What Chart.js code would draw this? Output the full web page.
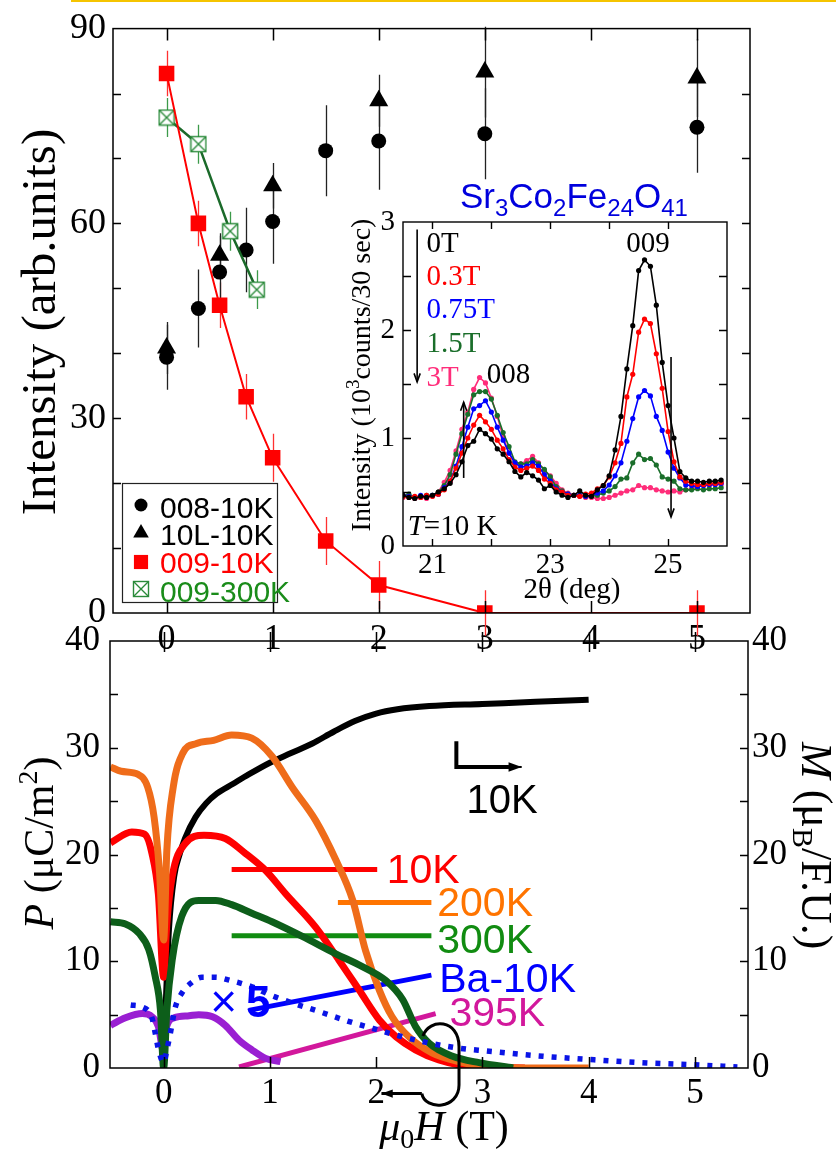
<!DOCTYPE html>
<html>
<head>
<meta charset="utf-8">
<script src="https://cdn.jsdelivr.net/npm/chart.js@4.4.0/dist/chart.umd.min.js"></script>
<style>
  html, body { margin: 0; padding: 0; background: #fff; }
  #wrap { position: relative; width: 836px; height: 1151px; overflow: hidden; }
  #wrap canvas { position: absolute; }
  #gold { position: absolute; left: 71px; top: 0; width: 765px; height: 2px; background: #f5c400; }
</style>
</head>
<body>
<div id="wrap">
  <div id="gold"></div>
  <canvas id="cBot" width="836" height="551" style="left:0;top:600px;width:836px;height:551px"></canvas>
  <canvas id="cTop" width="836" height="660" style="left:0;top:0;width:836px;height:660px"></canvas>
  <canvas id="cIns" width="400" height="440" style="left:340px;top:170px;width:400px;height:440px"></canvas>
</div>
<script>
// ---- top panel: peak intensity vs field ----
const field008 = [0, 0.3, 0.5, 0.75, 1, 1.5, 2, 3, 5];
const int008 = [39.4, 46.9, 52.5, 55.9, 60.3, 71.2, 72.7, 73.8, 74.8];
const err008 = [5, 6, 6, 6.5, 6.5, 7, 7.5, 7, 7];
const field10L = [0, 0.5, 1, 2, 3, 5];
const int10L = [40.8, 55.1, 65.8, 78.9, 83.3, 82.4];
const err10L = [4, 3, 3.5, 4, 7, 6];
const field009 = [0, 0.3, 0.5, 0.75, 1, 1.5, 2, 3, 5];
const int009 = [83.1, 60.0, 47.4, 33.3, 23.9, 11.1, 4.3, 0, 0];
const err009 = [3.5, 3.5, 3.5, 3.5, 3.7, 3.7, 3.7, 3.5, 3.5];
const field300 = [0, 0.3, 0.6, 0.85];
const int300 = [76.3, 72.2, 58.8, 49.8];
const err300 = [3, 3, 3, 3];

// ---- inset: scans at T = 10 K ----
const twoTheta = [20.5,20.6,20.7,20.8,20.9,21.0,21.1,21.2,21.3,21.4,21.5,21.6,21.7,21.8,21.9,22.0,22.1,22.2,22.3,22.4,22.5,22.6,22.7,22.8,22.9,23.0,23.1,23.2,23.3,23.4,23.5,23.6,23.7,23.8,23.9,24.0,24.1,24.2,24.3,24.4,24.5,24.6,24.7,24.8,24.9,25.0,25.1,25.2,25.3,25.4,25.5,25.6,25.7,25.8,25.9];
const scan0T = [0.47,0.45,0.44,0.46,0.45, 0.47,0.50,0.53,0.58,0.66,0.78,0.93,0.97,1.08,1.04, 0.99,0.90,0.85,0.78,0.69,0.64,0.68,0.65,0.61,0.53, 0.56,0.50,0.47,0.45,0.47,0.51,0.47,0.46,0.52,0.56, 0.65,0.89,1.20,1.64,2.04,2.55,2.65,2.59,2.23,1.70, 1.30,1.00,0.69,0.63,0.60,0.60,0.59,0.60,0.60,0.61];
const scan03T = [0.46,0.45,0.46,0.45,0.47, 0.46,0.48,0.52,0.60,0.72,0.86,1.00,1.12,1.21,1.15, 1.08,0.98,0.90,0.80,0.73,0.70,0.72,0.74,0.70,0.62, 0.58,0.52,0.50,0.47,0.47,0.46,0.48,0.49,0.53,0.56, 0.64,0.77,0.95,1.38,1.59,1.98,2.10,2.06,1.78,1.46, 1.06,0.78,0.64,0.60,0.58,0.57,0.57,0.58,0.58,0.59];
const scan075T = [0.47,0.46,0.45,0.47,0.46, 0.47,0.48,0.54,0.60,0.74,0.92,1.10,1.27,1.30,1.345, 1.24,1.10,0.98,0.86,0.77,0.73,0.74,0.77,0.74,0.66, 0.60,0.53,0.50,0.48,0.47,0.47,0.46,0.47,0.49,0.51, 0.565,0.65,0.77,0.97,1.18,1.38,1.44,1.39,1.20,1.07, 0.87,0.72,0.63,0.565,0.56,0.55,0.56,0.57,0.57,0.58];
const scan15T = [0.46,0.48,0.45,0.46,0.47, 0.47,0.50,0.56,0.66,0.85,1.04,1.22,1.40,1.43,1.43, 1.36,1.21,1.05,0.92,0.78,0.76,0.76,0.80,0.76,0.71, 0.64,0.55,0.51,0.48,0.47,0.47,0.46,0.46,0.47,0.49, 0.51,0.55,0.62,0.63,0.77,0.85,0.80,0.81,0.75,0.64, 0.62,0.60,0.53,0.52,0.52,0.53,0.52,0.53,0.53,0.54];
const scan3T = [0.45,0.46,0.44,0.45,0.44, 0.46,0.50,0.59,0.70,0.88,1.08,1.24,1.45,1.56,1.51, 1.37,1.20,1.01,0.86,0.77,0.76,0.79,0.83,0.77,0.70, 0.65,0.58,0.52,0.49,0.47,0.46,0.45,0.45,0.44,0.44, 0.45,0.47,0.49,0.51,0.52,0.56,0.54,0.54,0.52,0.51, 0.50,0.51,0.50,0.52,0.53,0.55,0.56,0.56,0.57,0.57];

// ---- bottom panel: P(H) and M(H) ----
const hM10K = [0, 0.02, 0.05, 0.1, 0.15, 0.2, 0.3, 0.4, 0.5, 0.65, 0.8, 1.0, 1.2, 1.4, 1.6, 1.8, 2.0, 2.2, 2.5, 3.0, 3.5, 4.0];
const m10K = [0, 6, 13, 18, 20, 21.5, 23.5, 24.8, 25.7, 26.6, 27.5, 28.6, 29.5, 30.4, 31.5, 32.5, 33.2, 33.6, 33.9, 34.1, 34.3, 34.5];
const h200K = [-0.5, -0.4, -0.24, -0.15, -0.09, -0.04, 0, 0.03, 0.09, 0.18, 0.31, 0.47, 0.64, 0.83, 1.02, 1.21, 1.43, 1.62, 1.78, 1.90, 2.03, 2.15, 2.31, 2.53, 2.78, 3.03, 3.5, 4.0];
const p200K = [28.2, 27.8, 27.5, 26.3, 23.5, 18.5, 12, 20.4, 26.3, 29.5, 30.4, 30.7, 31.2, 30.9, 29.2, 26.3, 23.2, 19.5, 15.7, 11.0, 7.3, 4.8, 2.9, 1.4, 0.6, 0.15, 0, 0];
const h10K = [-0.5, -0.3, -0.18, -0.11, -0.05, 0, 0.03, 0.08, 0.2, 0.38, 0.58, 0.77, 0.96, 1.15, 1.43, 1.65, 1.84, 2.03, 2.19, 2.37, 2.59, 2.84, 3.1, 3.4];
const p10K = [21.1, 22.1, 21.9, 20.1, 16.3, 8.5, 13.5, 17.9, 21.0, 21.8, 21.5, 20.1, 18.5, 16.3, 13.2, 10.1, 7.3, 4.5, 2.9, 1.7, 0.75, 0.2, 0.05, 0];
const h300K = [-0.5, -0.36, -0.23, -0.14, -0.08, -0.03, 0, 0.03, 0.08, 0.17, 0.33, 0.49, 0.64, 0.83, 1.02, 1.31, 1.62, 1.87, 2.09, 2.25, 2.37, 2.5, 2.72, 2.97, 3.29];
const p300K = [13.7, 13.5, 12.6, 11.1, 8.6, 5.4, 0, 5.4, 10.1, 14.2, 15.7, 15.7, 15.3, 14.5, 13.7, 12.3, 10.7, 9.5, 8.2, 6.4, 3.9, 2.3, 1.1, 0.5, 0];
const hBa = [-0.31, -0.2, -0.11, -0.08, -0.05, 0, 0.03, 0.06, 0.11, 0.17, 0.25, 0.36, 0.49, 0.63, 0.74, 0.86, 0.99, 1.21, 1.46, 1.73, 1.97, 2.22, 2.47, 2.75, 3.03, 3.57, 4.0, 4.5, 5.0, 5.4];
const pBa = [5.9, 5.7, 4.7, 3.3, 1.8, 0.5, 1.7, 3.1, 5.7, 7.0, 7.9, 8.5, 8.5, 8.2, 7.9, 7.5, 6.9, 6.1, 5.3, 4.4, 3.7, 3.0, 2.4, 1.9, 1.6, 1.1, 0.8, 0.5, 0.3, 0.1];
const h395K = [-0.5, -0.36, -0.2, -0.11, -0.05, 0, 0.02, 0.1, 0.24, 0.33, 0.46, 0.58, 0.71, 0.83, 0.96, 1.1];
const p395K = [4.0, 4.7, 5.1, 4.8, 3.9, 1.5, 3.6, 4.7, 4.9, 5.0, 4.8, 4.0, 2.6, 1.7, 0.9, 0.6];

const serif = '"Liberation Serif", "Times New Roman", serif';
const sans = '"Liberation Sans", Arial, sans-serif';
const RED = '#ff0000';
// field axis runs from -0.5 to 5.5 T; the tiny offset keeps the integer ticks
const H_MIN = -0.505, H_MAX = 5.5;

const xy = (xs, ys) => xs.map((x, i) => ({ x, y: ys[i] }));

// text made of runs with their own font / vertical shift
function rich(ctx, parts, x, y, align, rot) {
  ctx.save();
  ctx.translate(x, y);
  if (rot) ctx.rotate(rot);
  ctx.textBaseline = 'alphabetic';
  ctx.textAlign = 'left';
  let w = 0;
  for (const p of parts) { ctx.font = p[1]; w += ctx.measureText(p[0]).width; }
  let cx = align === 'center' ? -w / 2 : align === 'right' ? -w : 0;
  for (const p of parts) {
    ctx.font = p[1];
    ctx.fillText(p[0], cx, p[2] || 0);
    cx += ctx.measureText(p[0]).width;
  }
  ctx.restore();
}

function arrow(ctx, x1, y1, x2, y2, head, filled) {
  const a = Math.atan2(y2 - y1, x2 - x1);
  ctx.beginPath(); ctx.moveTo(x1, y1); ctx.lineTo(x2, y2); ctx.stroke();
  ctx.beginPath();
  ctx.moveTo(x2 - head * Math.cos(a - 0.35), y2 - head * Math.sin(a - 0.35));
  ctx.lineTo(x2, y2);
  ctx.lineTo(x2 - head * Math.cos(a + 0.35), y2 - head * Math.sin(a + 0.35));
  if (filled) { ctx.closePath(); ctx.fill(); } else ctx.stroke();
}

function boxX(color) {
  const c = document.createElement('canvas');
  c.width = c.height = 18;
  const g = c.getContext('2d');
  g.fillStyle = '#fff'; g.fillRect(1, 1, 16, 16);
  g.strokeStyle = color; g.lineWidth = 1.4;
  g.strokeRect(1.5, 1.5, 15, 15);
  g.beginPath(); g.moveTo(1.5, 1.5); g.lineTo(16.5, 16.5); g.moveTo(16.5, 1.5); g.lineTo(1.5, 16.5); g.stroke();
  return c;
}
const boxMark = boxX('#2a8a3a');

// frame + inward ticks on all four sides
const ticksFrame = {
  id: 'ticksFrame',
  beforeDraw(chart, args, o) {
    if (!o.bg) return;
    const a = chart.chartArea, ctx = chart.ctx;
    ctx.save(); ctx.fillStyle = o.bg; ctx.fillRect(a.left, a.top, a.right - a.left, a.bottom - a.top); ctx.restore();
  },
  afterDraw(chart, args, o) {
    const { ctx, chartArea: a, scales } = chart;
    const xs = scales.x, ys = scales.y;
    ctx.save();
    ctx.strokeStyle = '#000';
    ctx.lineWidth = o.lw || 1.5;
    ctx.beginPath();
    for (const t of xs.ticks) {
      const p = Math.round(xs.getPixelForValue(t.value)) + 0.5;
      if (p < a.left + 2 || p > a.right - 2) continue;
      ctx.moveTo(p, a.bottom); ctx.lineTo(p, a.bottom - o.xLen);
      ctx.moveTo(p, a.top - (o.topOut || 0)); ctx.lineTo(p, a.top + o.xLen);
    }
    for (const t of ys.ticks) {
      const p = Math.round(ys.getPixelForValue(t.value)) + 0.5;
      if (p < a.top + 2 || p > a.bottom - 2) continue;
      ctx.moveTo(a.left, p); ctx.lineTo(a.left + o.yLen, p);
      ctx.moveTo(a.right, p); ctx.lineTo(a.right - o.yLen, p);
    }
    ctx.stroke();
    ctx.strokeRect(a.left, a.top, a.right - a.left, a.bottom - a.top);
    ctx.restore();
  }
};

const errorBars = {
  id: 'errorBars',
  beforeDatasetsDraw(chart) {
    const { ctx, scales: { x, y } } = chart;
    ctx.save();
    chart.data.datasets.forEach((ds) => {
      if (!ds.errs) return;
      ctx.strokeStyle = ds.errColor; ctx.lineWidth = 1.3;
      ctx.beginPath();
      ds.data.forEach((p, i) => {
        const px = Math.round(x.getPixelForValue(p.x)) + 0.5;
        ctx.moveTo(px, y.getPixelForValue(p.y - ds.errs[i]));
        ctx.lineTo(px, y.getPixelForValue(p.y + ds.errs[i]));
      });
      ctx.stroke();
    });
    ctx.restore();
  }
};

const noGrid = { display: false, drawTicks: false, tickLength: 0 };
const tickFont = (s) => ({ family: serif, size: s });

// ---------------- top panel ----------------
const topDeco = {
  id: 'topDeco',
  afterDraw(chart) {
    const ctx = chart.ctx;
    ctx.save();
    ctx.fillStyle = '#000';
    rich(ctx, [['Intensity (arb.units)', '49px ' + serif]], 55, 322, 'center', -Math.PI / 2);
    // legend
    ctx.fillStyle = '#fff';
    ctx.fillRect(122.5, 483.5, 155, 119);
    ctx.strokeStyle = '#222'; ctx.lineWidth = 1.2;
    ctx.strokeRect(122.5, 483.5, 155, 119);
    const rows = [
      ['008-10K', 'circle', 6.5, '#000', 505, 518],
      ['10L-10K', 'triangle', 9, '#000', 533, 545],
      ['009-10K', 'rect', 10, RED, 562, 573],
      ['009-300K', boxMark, 8, '#1a8c1a', 589, 602]
    ];
    for (const r of rows) {
      ctx.fillStyle = r[3] === '#1a8c1a' ? '#fff' : r[3];
      ctx.strokeStyle = r[3];
      Chart.helpers.drawPoint(ctx, { pointStyle: r[1], radius: r[2], rotation: 0, borderWidth: 0 }, 141, r[4]);
      ctx.fillStyle = r[3];
      ctx.font = '30px ' + sans;
      ctx.textBaseline = 'alphabetic';
      ctx.fillText(r[0], 160, r[5]);
    }
    ctx.restore();
  }
};

new Chart(document.getElementById('cTop'), {
  type: 'scatter',
  data: {
    datasets: [
      { label: '009-10K', data: xy(field009, int009), showLine: true, borderColor: RED, borderWidth: 2,
        pointStyle: 'rect', pointRadius: 11, pointBackgroundColor: RED, pointBorderWidth: 0, errs: err009, errColor: '#ff3030' },
      { label: '009-300K', data: xy(field300, int300), showLine: true, borderColor: '#1b6a2a', borderWidth: 2.5,
        pointStyle: boxMark, pointRadius: 9, errs: err300, errColor: '#3c9a4a' },
      { label: '008-10K', data: xy(field008, int008), pointStyle: 'circle', pointRadius: 7.5,
        pointBackgroundColor: '#000', pointBorderWidth: 0, errs: err008, errColor: '#222' },
      { label: '10L-10K', data: xy(field10L, int10L), pointStyle: 'triangle', pointRadius: 11,
        pointBackgroundColor: '#000', pointBorderWidth: 0, errs: err10L, errColor: '#222' }
    ]
  },
  options: {
    responsive: false, animation: false, events: [],
    layout: { padding: { top: 28, right: 86, left: 0, bottom: 0 } },
    plugins: { legend: { display: false }, tooltip: { enabled: false }, ticksFrame: { xLen: 12, yLen: 8 } },
    scales: {
      x: { type: 'linear', min: H_MIN, max: H_MAX,
        ticks: { stepSize: 1, includeBounds: false, autoSkip: false, maxRotation: 0, padding: 5, font: tickFont(36), color: '#000' },
        grid: noGrid, border: { display: false }, afterFit(s) { s.height = 47; } },
      y: { min: 0, max: 90,
        ticks: { stepSize: 10, autoSkip: false, padding: 7, font: tickFont(36), color: '#000', callback: (v) => (v % 30 === 0 ? v : '') },
        grid: noGrid, border: { display: false }, afterFit(s) { s.width = 113; } }
    }
  },
  plugins: [ticksFrame, errorBars, topDeco]
});

// ---------------- inset ----------------
const insetDeco = {
  id: 'insetDeco',
  afterDraw(chart) {
    const { ctx, scales: { x, y } } = chart;
    const X = (v) => x.getPixelForValue(v), Y = (v) => y.getPixelForValue(v);
    ctx.save();
    ctx.fillStyle = '#0000dd';
    const f1 = '35px ' + sans, f2 = '24px ' + sans;
    rich(ctx, [['Sr', f1], ['3', f2, 8], ['Co', f1], ['2', f2, 8], ['Fe', f1], ['24', f2, 8], ['O', f1], ['41', f2, 8]], 120, 38, 'left');
    ctx.fillStyle = '#000';
    rich(ctx, [['Intensity (10', '28px ' + serif], ['3', '19px ' + serif, -11], ['counts/30 sec)', '28px ' + serif]], 30, 205, 'center', -Math.PI / 2);
    rich(ctx, [['2θ (deg)', '29px ' + serif]], 232, 428, 'center');
    const f = '29px ' + serif;
    const leg = [['0T', '#000', 2.72], ['0.3T', RED, 2.42], ['0.75T', '#0000ff', 2.11], ['1.5T', '#1a6e2a', 1.80], ['3T', '#ff2d7a', 1.48]];
    for (const l of leg) { ctx.fillStyle = l[1]; rich(ctx, [[l[0], f]], X(20.9), Y(l[2]), 'left'); }
    ctx.fillStyle = '#000';
    rich(ctx, [['008', f]], X(21.92), Y(1.51), 'left');
    rich(ctx, [['009', f]], X(24.29), Y(2.72), 'left');
    rich(ctx, [['T', 'italic 29px ' + serif], ['=10 K', f]], X(20.58), Y(0.10), 'left');
    ctx.strokeStyle = '#000'; ctx.lineWidth = 1.6;
    arrow(ctx, X(20.74), Y(2.93), X(20.74), Y(1.52), 9, false);
    arrow(ctx, X(21.53), Y(0.63), X(21.53), Y(1.33), 9, false);
    arrow(ctx, X(25.05), Y(1.75), X(25.05), Y(0.27), 9, false);
    ctx.restore();
  }
};

const scanSet = (label, vals, color) => ({
  label, data: xy(twoTheta, vals), showLine: true, borderColor: color, borderWidth: 1.6,
  pointRadius: 2.6, pointBackgroundColor: color, pointBorderWidth: 0, tension: 0
});

new Chart(document.getElementById('cIns'), {
  type: 'scatter',
  data: {
    datasets: [
      scanSet('0T', scan0T, '#000'),
      scanSet('0.3T', scan03T, RED),
      scanSet('0.75T', scan075T, '#0000ff'),
      scanSet('1.5T', scan15T, '#1a6e2a'),
      scanSet('3T', scan3T, '#ff2d7a')
    ]
  },
  options: {
    responsive: false, animation: false, events: [],
    layout: { padding: { top: 52, right: 13, left: 0, bottom: 0 } },
    plugins: { legend: { display: false }, tooltip: { enabled: false }, ticksFrame: { xLen: 7, yLen: 8, lw: 1.4, bg: '#fff' } },
    scales: {
      x: { type: 'linear', min: 20.5, max: 26,
        ticks: { stepSize: 1, includeBounds: false, autoSkip: false, maxRotation: 0, padding: 2, font: tickFont(29), color: '#000',
          callback: (v) => (v === 21 || v === 23 || v === 25 ? v : '') },
        grid: noGrid, border: { display: false }, afterFit(s) { s.height = 64; } },
      y: { min: 0, max: 3,
        ticks: { stepSize: 0.5, autoSkip: false, padding: 8, font: tickFont(29), color: '#000',
          callback: (v) => (Number.isInteger(v) ? v : '') },
        grid: noGrid, border: { display: false }, afterFit(s) { s.width = 63; } }
    }
  },
  plugins: [ticksFrame, insetDeco]
});

// ---------------- bottom panel ----------------
const tags = [
  { t: '10K', c: '#ff0000', lx: [0.64, 2.01], ly: [18.6, 18.6], tx: 2.10, ty: 18.4 },
  { t: '200K', c: '#ff7400', lx: [1.64, 2.52], ly: [15.5, 15.5], tx: 2.575, ty: 15.3 },
  { t: '300K', c: '#118c11', lx: [0.64, 2.52], ly: [12.4, 12.4], tx: 2.575, ty: 11.8 },
  { t: 'Ba-10K', c: '#0000ff', lx: [0.80, 2.52], ly: [5.4, 8.7], tx: 2.594, ty: 8.2 },
  { t: '395K', c: '#d2189c', lx: [0.71, 2.56], ly: [0.1, 5.1], tx: 2.69, ty: 5.0 }
];

const botDeco = {
  id: 'botDeco',
  afterDraw(chart) {
    const { ctx, scales: { x, y } } = chart;
    const X = (v) => x.getPixelForValue(v), Y = (v) => y.getPixelForValue(v);
    ctx.save();
    ctx.textBaseline = 'middle';
    ctx.font = '41px ' + sans;
    for (const g of tags) { ctx.fillStyle = g.c; ctx.fillText(g.t, X(g.tx), Y(g.ty)); }
    // x5 marker for the Ba curve
    ctx.fillStyle = '#0000ff';
    ctx.textAlign = 'center';
    ctx.font = '46px ' + sans;
    ctx.fillText('×', X(0.566), Y(6.0));
    ctx.textAlign = 'left';
    ctx.textBaseline = 'alphabetic';
    ctx.font = 'bold 44px ' + sans;
    ctx.fillText('5', X(0.774), Y(4.78));
    // M axis pointer
    ctx.fillStyle = '#000'; ctx.strokeStyle = '#000'; ctx.lineWidth = 4;
    ctx.beginPath(); ctx.moveTo(X(2.755), Y(30.6)); ctx.lineTo(X(2.755), Y(28.2)); ctx.lineTo(X(3.25), Y(28.2)); ctx.stroke();
    ctx.lineWidth = 2;
    arrow(ctx, X(3.2), Y(28.2), X(3.37), Y(28.2), 14, true);
    ctx.font = '40px ' + sans;
    ctx.fillText('10K', X(2.85), Y(23.9));
    // loop pointing to the left axis
    ctx.lineWidth = 3;
    ctx.beginPath();
    ctx.moveTo(X(2.44), Y(3.0));
    ctx.bezierCurveTo(X(2.50), Y(4.7), X(2.78), Y(4.6), X(2.78), Y(2.0));
    ctx.lineTo(X(2.78), Y(-1.6));
    ctx.bezierCurveTo(X(2.78), Y(-3.9), X(2.46), Y(-4.0), X(2.43), Y(-2.4));
    ctx.stroke();
    arrow(ctx, X(2.43), Y(-2.4), X(2.05), Y(-2.4), 12, true);
    // axis titles
    rich(ctx, [['P', 'italic 42px ' + serif], [' (μC/m', '42px ' + serif], ['2', '28px ' + serif, -16], [')', '42px ' + serif]], 53, 243, 'center', -Math.PI / 2);
    rich(ctx, [['M', 'italic 44px ' + serif], [' (μ', '44px ' + serif], ['B', '30px ' + serif, 9], ['/F.U.)', '44px ' + serif]], 802, 142, 'left', Math.PI / 2);
    rich(ctx, [['μ', 'italic 42px ' + serif], ['0', '28px ' + serif, 8], ['H', 'italic 42px ' + serif], [' (T)', '42px ' + serif]], 444, 540, 'center');
    ctx.restore();
  }
};

const curve = (label, xs, ys, color, w, extra) => Object.assign({
  label, data: xy(xs, ys), showLine: true, borderColor: color, borderWidth: w,
  pointRadius: 0, cubicInterpolationMode: 'monotone', borderCapStyle: 'butt', borderJoinStyle: 'round'
}, extra || {});

new Chart(document.getElementById('cBot'), {
  type: 'scatter',
  data: {
    datasets: [
      curve('Ba-10K x5', hBa, pBa, '#0a14e6', 5.5, { borderDash: [5, 8] }),
      curve('300K', h300K, p300K, '#0d5e1a', 7),
      curve('200K', h200K, p200K, '#ef6c1a', 7),
      curve('10K', h10K, p10K, '#ff0000', 7),
      curve('395K', h395K, p395K, '#9a1fd2', 7),
      curve('M 10K', hM10K, m10K, '#000', 6, { yAxisID: 'y2' }),
      ...tags.map((g) => ({ label: g.t + ' tag', data: xy(g.lx, g.ly), showLine: true, borderColor: g.c,
        borderWidth: 5, pointRadius: 0, borderCapStyle: 'butt' }))
    ]
  },
  options: {
    responsive: false, animation: false, events: [],
    layout: { padding: { top: 41, right: 0, left: 0, bottom: 0 } },
    plugins: { legend: { display: false }, tooltip: { enabled: false }, ticksFrame: { xLen: 11, yLen: 8, topOut: 9 } },
    scales: {
      x: { type: 'linear', min: H_MIN, max: H_MAX,
        ticks: { stepSize: 1, includeBounds: false, autoSkip: false, maxRotation: 0, padding: 5, font: tickFont(35), color: '#000' },
        grid: noGrid, border: { display: false }, afterFit(s) { s.height = 83; } },
      y: { min: 0, max: 40,
        ticks: { stepSize: 5, autoSkip: false, padding: 10, font: tickFont(35), color: '#000', callback: (v) => (v % 10 === 0 ? v : '') },
        grid: noGrid, border: { display: false }, afterFit(s) { s.width = 110; } },
      y2: { position: 'right', min: 0, max: 40,
        ticks: { stepSize: 5, autoSkip: false, padding: 4, font: tickFont(35), color: '#000', callback: (v) => (v % 10 === 0 ? v : '') },
        grid: noGrid, border: { display: false }, afterFit(s) { s.width = 88; } }
    }
  },
  plugins: [ticksFrame, botDeco]
});
</script>
</body>
</html>
